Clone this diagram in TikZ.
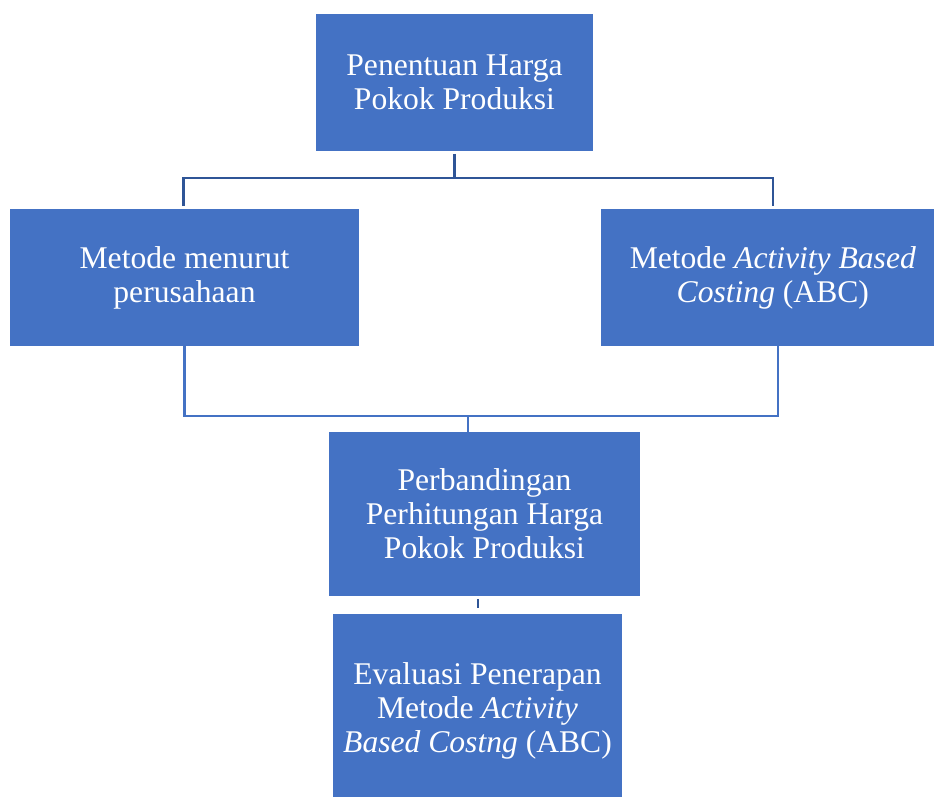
\documentclass[tikz,border=0pt]{standalone}
\usepackage{fontspec}
\setmainfont{Liberation Serif}
\definecolor{boxblue}{HTML}{4472C4}
\definecolor{linedark}{HTML}{2F5597}
\begin{document}
\begin{tikzpicture}[x=0.75pt,y=-0.75pt,
  box/.style={fill=boxblue, text=white, align=center, inner sep=0pt,
    font=\fontsize{23.7}{25.5}\selectfont},
  link/.style={draw=linedark, line width=2pt},
  mergeline/.style={draw=boxblue, line width=1.6pt}]
\useasboundingbox (0,0) rectangle (934,796);
\node[box, minimum width=207.75pt, minimum height=102.75pt] at (454.5,82.5) (hpp) {Penentuan Harga\\Pokok Produksi};
\node[box, minimum width=261.75pt, minimum height=102.75pt] at (184.5,277.5) (perusahaan) {Metode menurut\\perusahaan};
\node[box, minimum width=249.75pt, minimum height=102.75pt] at (767.5,277.5) (abc) {\hspace*{8pt}Metode \textit{Activity Based}\\\hspace*{8pt}\textit{Costing} (ABC)};
\node[box, minimum width=233.25pt, minimum height=123pt] at (484.5,514) (banding) {Perbandingan\\Perhitungan Harga\\Pokok Produksi};
\node[box, minimum width=216.75pt, minimum height=145.5pt] at (477.5,711) (evaluasi) {Evaluasi Penerapan\\Metode \textit{Activity}\\\textit{Based Costng} (ABC)};

\coordinate (atas) at (454.5,178);
\coordinate (bawah) at (468,416);

\draw[link] ([yshift=-2pt]hpp.south) -- (atas);
\draw[link] ([xshift=-1pt,yshift=2pt]perusahaan.north) |- (atas) -| ([xshift=4pt,yshift=2pt]abc.north);
\draw[mergeline] (perusahaan.south) |- (bawah) -| ([xshift=8pt]abc.south);
\draw[mergeline] (bawah) -- (banding.north -| bawah);
\draw[link] ([xshift=-4.9pt]banding.south) ++(0,3) -- ++(0,9);
\end{tikzpicture}
\end{document}
